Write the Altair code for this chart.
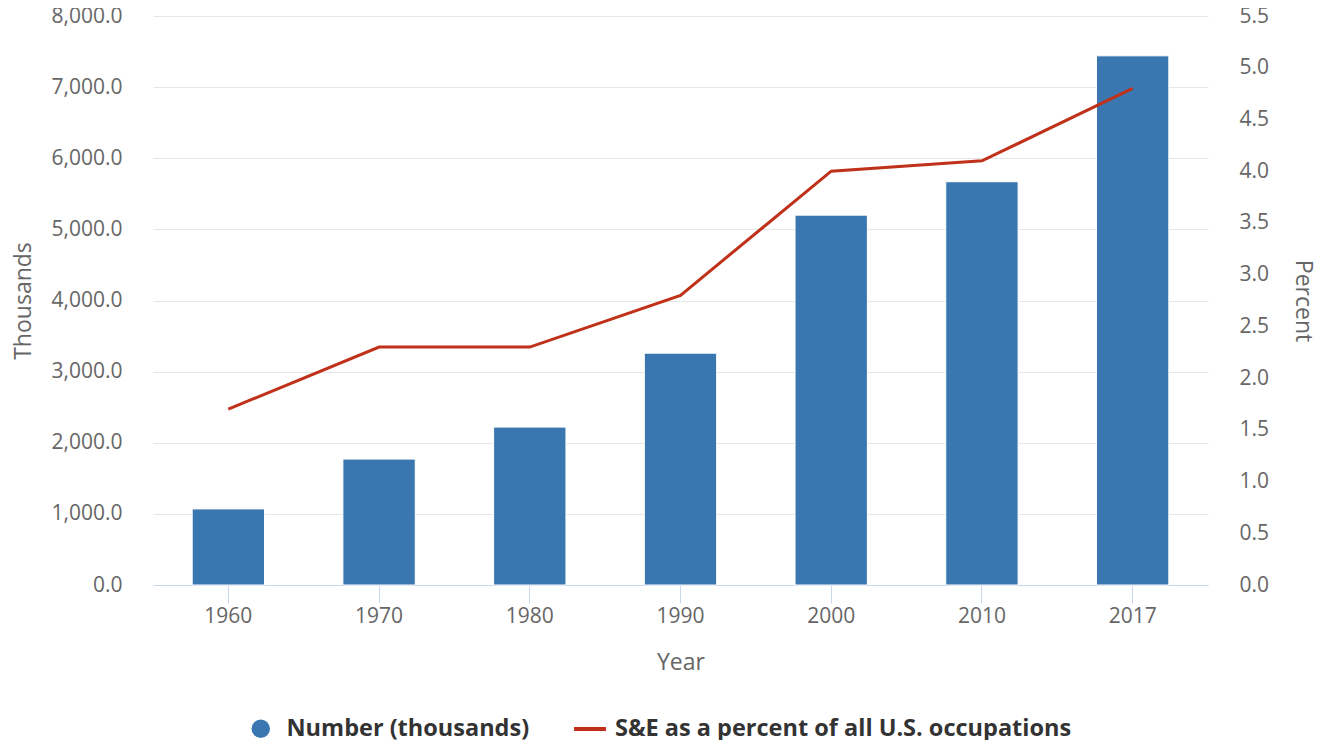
import altair as alt
import pandas as pd

years = ["1960", "1970", "1980", "1990", "2000", "2010", "2017"]
number_thousands = [1070, 1770, 2220, 3260, 5200, 5670, 7440]
percent_of_all = [1.7, 2.3, 2.3, 2.8, 4.0, 4.1, 4.8]

bar_label = "Number (thousands)"
line_label = "S&E as a percent of all U.S. occupations"

left_ticks = [0, 1000, 2000, 3000, 4000, 5000, 6000, 7000, 8000]
right_ticks = [0, 0.5, 1.0, 1.5, 2.0, 2.5, 3.0, 3.5, 4.0, 4.5, 5.0, 5.5]

BAR = "#3A77B0"
LINE = "#C0311A"
FONT = "Open Sans"
GREY = "#666666"

df = pd.DataFrame({
    "Year": years,
    "Number": number_thousands,
    "Percent": percent_of_all,
    "BarSeries": [bar_label] * len(years),
    "LineSeries": [line_label] * len(years),
})

x_enc = alt.X(
    "Year:N",
    sort=years,
    scale=alt.Scale(paddingInner=0.52, paddingOuter=0.26),
    axis=alt.Axis(
        title="Year", labelAngle=0, labelFontSize=21, titleFontSize=23,
        tickSize=18, tickColor="#ccd6eb", domainColor="#ccd6eb",
        tickWidth=1, domainWidth=1, labelPadding=2, titlePadding=25, grid=False,
    ),
)

bars = alt.Chart(df).mark_bar(stroke="white", strokeWidth=1).encode(
    x=x_enc,
    y=alt.Y(
        "Number:Q",
        scale=alt.Scale(domain=[0, 8000], nice=False),
        axis=alt.Axis(
            title="Thousands", values=left_ticks, format=",.1f", grid=True,
            gridColor="#e6e6e6", gridWidth=1, domain=False, ticks=False,
            labelPadding=31, titlePadding=16, labelFontSize=21, titleFontSize=23,
        ),
    ),
    fill=alt.Fill(
        "BarSeries:N",
        scale=alt.Scale(domain=[bar_label], range=[BAR]),
        legend=alt.Legend(
            title=None, orient="none", legendX=96, legendY=701,
            symbolType="circle", symbolSize=400, labelOffset=14,
        ),
    ),
)

line = alt.Chart(df).mark_line(strokeWidth=3).encode(
    x=alt.X("Year:N", sort=years),
    y=alt.Y(
        "Percent:Q",
        scale=alt.Scale(domain=[0, 5.5], nice=False),
        axis=alt.Axis(
            title="Percent", orient="right", values=right_ticks, format=".1f",
            grid=False, domain=False, ticks=False, labelPadding=31,
            titlePadding=22, labelFontSize=21, titleFontSize=23,
        ),
    ),
    stroke=alt.Stroke(
        "LineSeries:N",
        scale=alt.Scale(domain=[line_label], range=[LINE]),
        legend=alt.Legend(
            title=None, orient="none", legendX=419, legendY=695,
            symbolType="stroke", symbolSize=1024, symbolStrokeWidth=4,
            labelOffset=7,
        ),
    ),
)

chart = (
    alt.layer(bars, line)
    .resolve_scale(y="independent")
    .properties(
        width=1055, height=569,
        autosize=alt.AutoSizeParams(type="none"),
        padding={"left": 145, "top": 8, "right": 108, "bottom": 155},
    )
    .configure_view(stroke=None)
    .configure_axis(
        labelFont=FONT, titleFont=FONT, labelColor=GREY, titleColor=GREY,
        titleFontWeight="normal",
    )
    .configure_legend(
        labelFont=FONT, labelFontSize=23.5, labelFontWeight="bold",
        labelColor="#333333", labelLimit=1000, padding=0,
    )
)

chart.save("out.html", embed_options={"renderer": "svg", "actions": False})
